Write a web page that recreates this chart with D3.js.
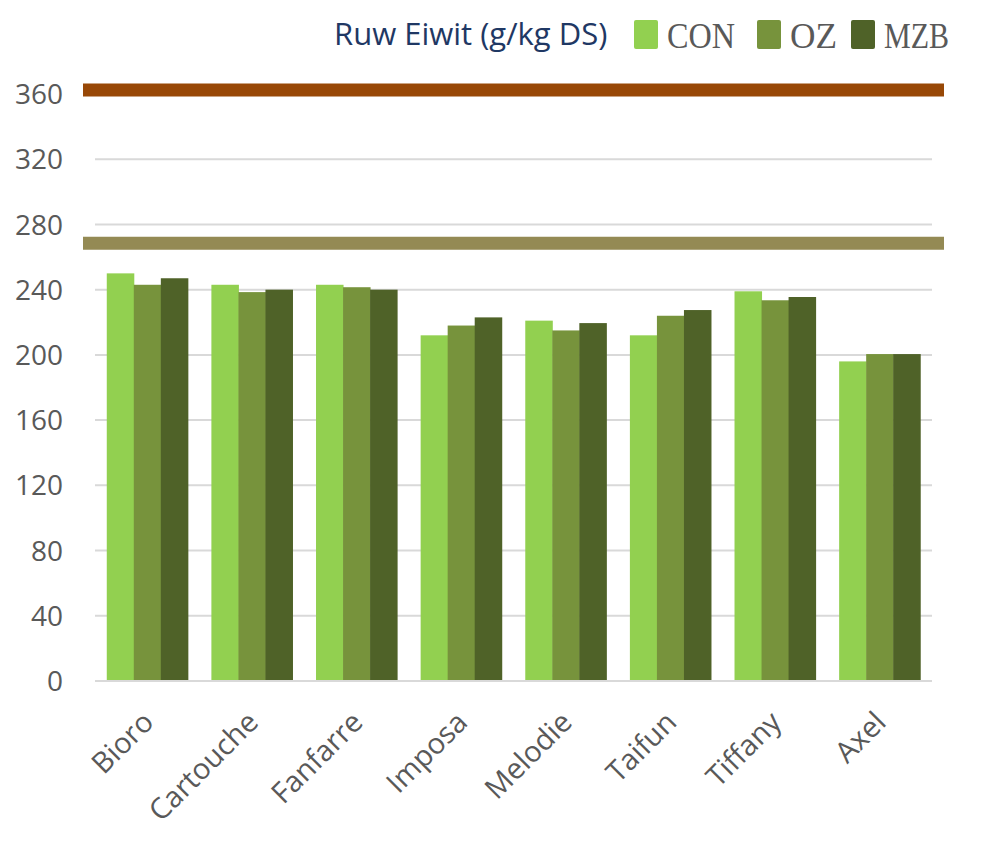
<!DOCTYPE html>
<html>
<head>
<meta charset="utf-8">
<script src="https://cdn.jsdelivr.net/npm/d3@7"></script>
<style>
  body { margin: 0; background: #fff; }
</style>
</head>
<body>
<svg id="chart" width="985" height="845"></svg>
<script>
// data
const rassen = ['Bioro', 'Cartouche', 'Fanfarre', 'Imposa', 'Melodie', 'Taifun', 'Tiffany', 'Axel'];
const series = ['CON', 'OZ', 'MZB'];
const conValues = [250, 243, 243, 212, 221, 212, 239, 196];
const ozValues  = [243, 238.5, 241.5, 218, 215, 224, 233.5, 200.5];
const mzbValues = [247, 240, 240, 223, 219.5, 227.5, 235.5, 200.5];
const yTicks = [0, 40, 80, 120, 160, 200, 240, 280, 320, 360];
const refLines = [362.5, 268.5];   // the two thick horizontal bands
const refColors = ['#984807', '#948A54'];
const colors = ['#92D050', '#77933C', '#4F6228'];

const sans = '"Open Sans", "Noto Sans", sans-serif';
const svg = d3.select('#chart');

var scale =
{
    x: d3.scaleBand().domain(rassen).range([95, 932]).paddingInner(0.225).paddingOuter(0.1125),
    y: d3.scaleLinear().domain([0, 360]).range([681, 94])
};
scale.sub = d3.scaleBand().domain(series).range([0, scale.x.bandwidth()]);

// gridlines
svg.append('g').selectAll('line')
    .data(yTicks)
    .join('line')
    .attr('x1', 95).attr('x2', 932)
    .attr('y1', (d) => scale.y(d)).attr('y2', (d) => scale.y(d))
    .attr('stroke', '#D9D9D9')
    .attr('stroke-width', 2);

// y tick labels
svg.append('g').selectAll('text')
    .data(yTicks)
    .join('text')
    .attr('x', 63)
    .attr('y', (d) => scale.y(d))
    .attr('dy', '0.36em')
    .attr('text-anchor', 'end')
    .attr('font-family', sans)
    .attr('font-size', 28)
    .attr('fill', '#595959')
    .text((d) => d);

// bars
const table = rassen.map((r, i) => ({ ras: r, values: [conValues[i], ozValues[i], mzbValues[i]] }));

const groups = svg.append('g').selectAll('g')
    .data(table)
    .join('g')
    .attr('transform', (d) => `translate(${scale.x(d.ras)},0)`);

groups.selectAll('rect')
    .data((d) => d.values.map((v, j) => ({ key: series[j], value: v, c: colors[j] })))
    .join('rect')
    .attr('x', (d) => scale.sub(d.key))
    .attr('width', scale.sub.bandwidth() + 0.5)
    .attr('y', (d) => scale.y(d.value))
    .attr('height', (d) => scale.y(0) - scale.y(d.value))
    .attr('fill', (d) => d.c);

// baseline
svg.append('line')
    .attr('x1', 95).attr('x2', 932)
    .attr('y1', scale.y(0)).attr('y2', scale.y(0))
    .attr('stroke', '#D9D9D9').attr('stroke-width', 2);

// thick reference bands
svg.append('g').selectAll('line')
    .data(refLines)
    .join('line')
    .attr('x1', 83).attr('x2', 944)
    .attr('y1', (d) => scale.y(d)).attr('y2', (d) => scale.y(d))
    .attr('stroke', (d, i) => refColors[i])
    .attr('stroke-width', 13);

// category labels, rotated
svg.append('g').selectAll('text')
    .data(rassen)
    .join('text')
    .attr('transform', (d) => `translate(${scale.x(d) + scale.x.bandwidth() / 2 + 8},724) rotate(-45)`)
    .attr('text-anchor', 'end')
    .attr('font-family', sans)
    .attr('font-size', 29)
    .attr('fill', '#595959')
    .text((d) => d);

// legend
const legend = svg.append('g');
legend.append('text')
    .attr('x', 334).attr('y', 45)
    .attr('font-family', sans)
    .attr('font-size', 31)
    .attr('fill', '#1F3864')
    .text('Ruw Eiwit (g/kg DS)');

const legendX = [634, 757, 851];
const legendW = [68, 47, 65];
series.forEach((s, i) => {
    legend.append('rect')
        .attr('x', legendX[i]).attr('y', 20)
        .attr('width', 24).attr('height', 29)
        .attr('rx', 2)
        .attr('fill', colors[i]);
    legend.append('text')
        .attr('x', legendX[i] + 33).attr('y', 48)
        .attr('font-family', '"Liberation Serif", "DejaVu Serif", serif')
        .attr('font-size', 36)
        .attr('textLength', legendW[i])
        .attr('lengthAdjust', 'spacingAndGlyphs')
        .attr('fill', '#595959')
        .text(s);
});
</script>
</body>
</html>
